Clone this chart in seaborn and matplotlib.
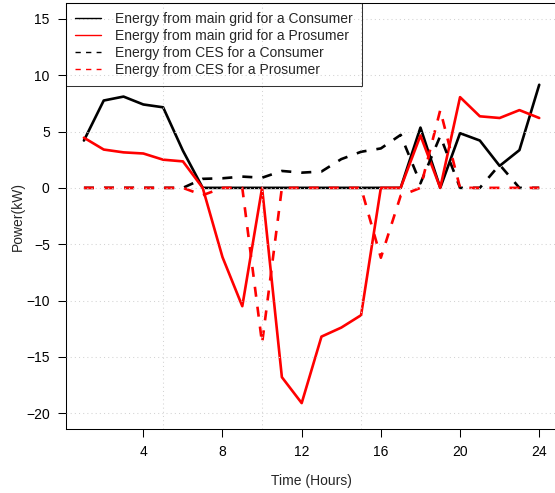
import matplotlib
matplotlib.use("Agg")
import matplotlib.pyplot as plt
import pandas as pd
import seaborn as sns
from matplotlib.ticker import MultipleLocator

# hourly values (kW)
hours = list(range(1, 25))
consumer_grid = [4.2, 7.75, 8.1, 7.4, 7.15, 3.3, 0, 0, 0, 0, 0, 0,
                 0, 0, 0, 0, 0, 5.35, 0, 4.85, 4.2, 1.95, 3.35, 9.15]
prosumer_grid = [4.45, 3.4, 3.15, 3.05, 2.5, 2.35, 0, -6.15, -10.5, 0, -16.8, -19.1,
                 -13.2, -12.4, -11.3, 0, 0, 4.65, 0, 8.05, 6.35, 6.2, 6.9, 6.2]
consumer_ces = [0, 0, 0, 0, 0, 0, 0.8, 0.85, 1.0, 0.9, 1.5, 1.35,
                1.45, 2.55, 3.2, 3.5, 4.7, 0.4, 4.6, 0, 0, 2.05, 0, 0]
prosumer_ces = [0, 0, 0, 0, 0, 0, -0.65, 0, 0, -13.8, 0, 0,
                0, 0, 0, -6.2, -0.7, 0, 6.9, 0, 0, 0, 0, 0]

labels = ["Energy from main grid for a Consumer",
          "Energy from main grid for a Prosumer",
          "Energy from CES for a Consumer",
          "Energy from CES for a Prosumer"]
colors = ["black", "red", "black", "red"]
x_ticks = [4, 8, 12, 16, 20, 24]
y_ticks = [-20, -15, -10, -5, 0, 5, 10, 15]


def build_frame():
    series = [consumer_grid, prosumer_grid, consumer_ces, prosumer_ces]
    parts = []
    for label, values in zip(labels, series):
        parts.append(pd.DataFrame({"hour": hours, "power": values, "series": label}))
    return pd.concat(parts, ignore_index=True)


def main():
    sns.set_style("ticks")
    plt.rcParams['font.family'] = ['Liberation Sans', 'DejaVu Sans']

    df = build_frame()
    fig = plt.figure(figsize=(5.55, 4.93), dpi=100)
    ax = fig.add_axes([0.1184, 0.1298, 0.886, 0.864])

    dash = (3.8, 3.8)
    sns.lineplot(
        data=df, x="hour", y="power",
        hue="series", style="series",
        hue_order=labels, style_order=labels,
        palette=dict(zip(labels, colors)),
        dashes=dict(zip(labels, ["", "", dash, dash])),
        linewidth=1.9, legend=False, ax=ax
    )

    ax.set_xlim(0.08, 24.92)
    ax.set_ylim(-21.4, 16.4)
    ax.set_xticks(x_ticks)
    ax.set_yticks(y_ticks)
    ax.xaxis.set_minor_locator(MultipleLocator(5))

    grid_kw = dict(color="lightgray", linestyle=(0, (1, 3)), linewidth=0.75)
    ax.grid(which="minor", axis="x", **grid_kw)
    ax.grid(which="major", axis="y", **grid_kw)
    ax.set_axisbelow(False)

    ax.tick_params(which="major", direction="out", length=5.5, width=0.75,
                   pad=6, labelsize=10, color="black", labelcolor="black")
    ax.tick_params(which="minor", length=0)
    for sp in ax.spines.values():
        sp.set_color("black")
        sp.set_linewidth(0.75)

    ax.set_xlabel("Time (Hours)", fontsize=10, labelpad=11)
    ax.set_ylabel("Power(kW)", fontsize=10, labelpad=1)

    # data lines come out in hue_order
    handles = ax.get_lines()[:len(labels)]
    leg = ax.legend(
        handles, labels,
        loc="upper left", bbox_to_anchor=(0, 1), borderaxespad=0,
        fancybox=False, fontsize=10, borderpad=0.65,
        handlelength=1.9, handletextpad=1.0, labelspacing=0.22
    )
    frame = leg.get_frame()
    frame.set_facecolor("none")
    frame.set_edgecolor("black")
    frame.set_linewidth(0.75)
    for line, c in zip(leg.get_lines(), colors):
        line.set_color(c)
        line.set_linewidth(1.0)

    fig.savefig("out.png", dpi=100)


if __name__ == '__main__':
    main()
